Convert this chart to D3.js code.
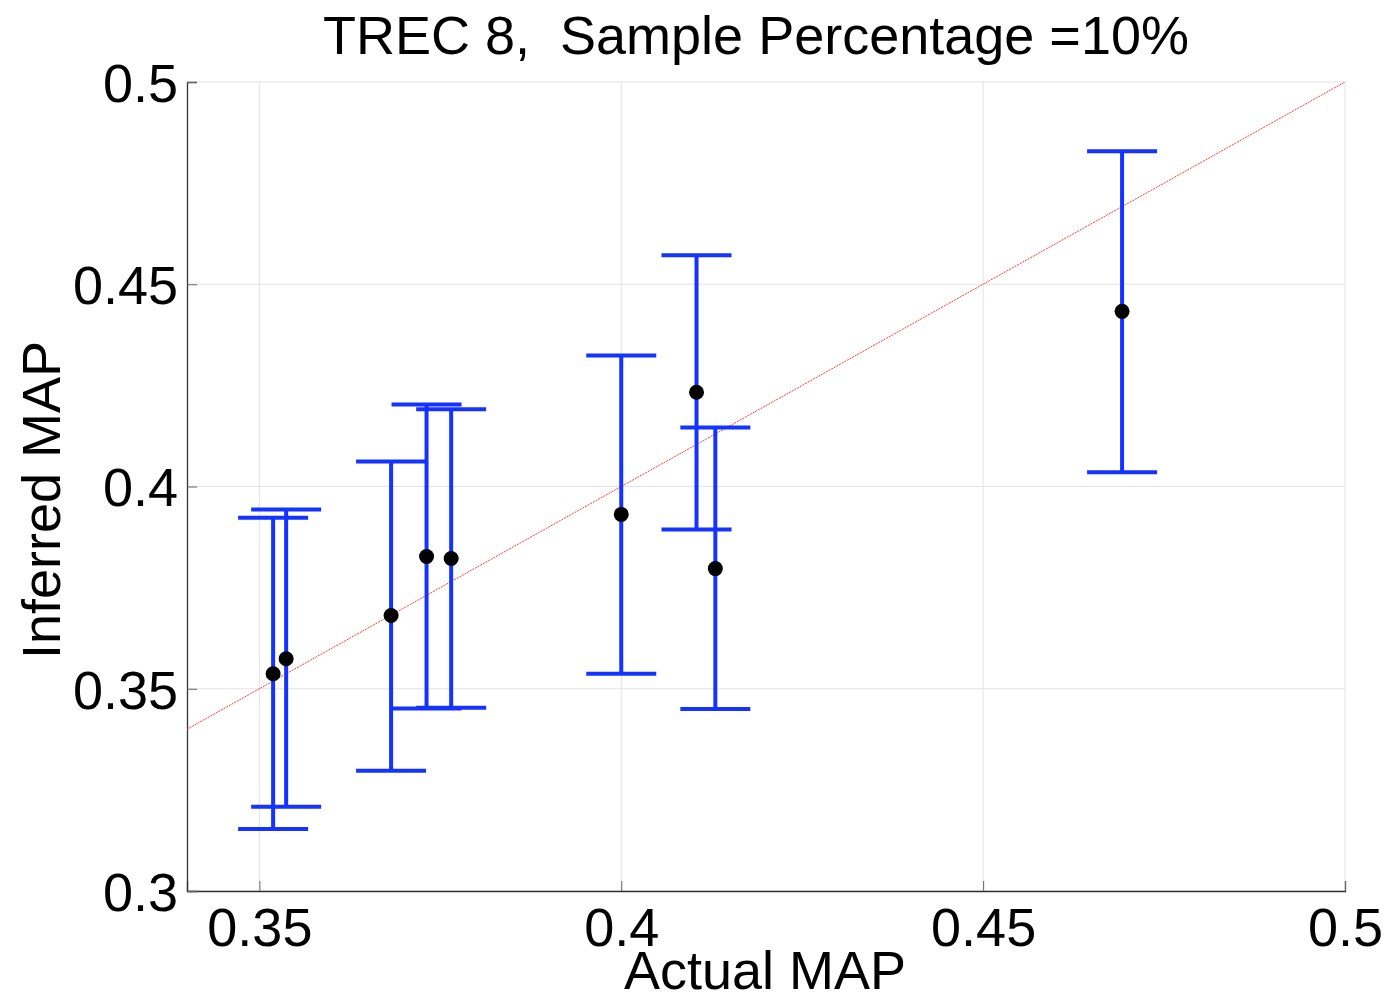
<!DOCTYPE html>
<html>
<head>
<meta charset="utf-8">
<script src="https://cdn.jsdelivr.net/npm/d3@7"></script>
<style>
  body { margin: 0; background: #fff; }
  text { font-family: "Liberation Sans", Arial, sans-serif; }
</style>
</head>
<body>
<svg width="1389" height="1001"></svg>
<script>
// actual MAP (x), inferred MAP (y), error bar bounds
var actual   = [0.3519, 0.3537, 0.3682, 0.3731, 0.3765, 0.4000, 0.4104, 0.4130, 0.4692];
var inferred = [0.3537, 0.3574, 0.3681, 0.3827, 0.3822, 0.3931, 0.4233, 0.3797, 0.4433];
var upper    = [0.3923, 0.3943, 0.4062, 0.4203, 0.4191, 0.4324, 0.4572, 0.4146, 0.4829];
var lower    = [0.3153, 0.3208, 0.3297, 0.3451, 0.3453, 0.3537, 0.3894, 0.3450, 0.4035];
var xTicks = [0.35, 0.4, 0.45, 0.5];
var yTicks = [0.3, 0.35, 0.4, 0.45, 0.5];

var svg = d3.select("svg"),
    margin = {top: 82, right: 44, bottom: 110, left: 187},
    width = svg.attr("width") - margin.left - margin.right,
    height = svg.attr("height") - margin.top - margin.bottom,
    g = svg.append("g").attr("transform", "translate(" + margin.left + "," + margin.top + ")");

var x = d3.scaleLinear().domain([0.34, 0.5]).range([0, width]),
    y = d3.scaleLinear().domain([0.3, 0.5]).range([height, 0]);

var data = actual.map(function(a, i) {
  return {x: a, y: inferred[i], hi: upper[i], lo: lower[i]};
});

// grid
g.append("g")
    .selectAll("line")
    .data(xTicks)
    .enter().append("line")
    .attr("x1", function(d) { return x(d); })
    .attr("x2", function(d) { return x(d); })
    .attr("y1", 0).attr("y2", height)
    .attr("stroke", "#e3e3e3").attr("stroke-width", 1);
g.append("g")
    .selectAll("line")
    .data(yTicks)
    .enter().append("line")
    .attr("y1", function(d) { return y(d); })
    .attr("y2", function(d) { return y(d); })
    .attr("x1", 0).attr("x2", width)
    .attr("stroke", "#e3e3e3").attr("stroke-width", 1);

// axes (ticks pointing inward)
var xAxis = g.append("g")
    .attr("transform", "translate(0," + height + ")")
    .call(d3.axisBottom(x).tickValues(xTicks).tickSize(-10).tickPadding(16)
      .tickFormat(function(d) { return d3.format("")(d); }));
var yAxis = g.append("g")
    .call(d3.axisLeft(y).tickValues(yTicks).tickSize(-10).tickPadding(9)
      .tickFormat(function(d) { return d3.format("")(d); }));

[xAxis, yAxis].forEach(function(a) {
  a.select(".domain").attr("stroke", "#333").attr("stroke-width", 1.3);
  a.selectAll(".tick line").attr("stroke", "#666").attr("stroke-width", 1);
  a.selectAll(".tick text")
      .attr("fill", "#000")
      .style("font-family", "Liberation Sans, Arial, sans-serif")
      .style("font-size", "54px");
});
xAxis.selectAll(".tick text").attr("dy", "0.72em");
yAxis.selectAll(".tick text").attr("dy", "0.36em");

// y = x reference line
g.append("line")
    .attr("x1", x(0.34)).attr("y1", y(0.34))
    .attr("x2", x(0.5)).attr("y2", y(0.5))
    .attr("stroke", "#ff3b30")
    .attr("stroke-width", 1)
    .attr("stroke-dasharray", "2,1");

// error bars
var bars = g.selectAll(".bar")
    .data(data)
    .enter().append("g")
    .attr("class", "bar")
    .attr("stroke", "#1433ff")
    .attr("stroke-width", 4);

bars.append("line")
    .attr("x1", function(d) { return x(d.x); })
    .attr("x2", function(d) { return x(d.x); })
    .attr("y1", function(d) { return y(d.hi); })
    .attr("y2", function(d) { return y(d.lo); });
bars.append("line")
    .attr("x1", function(d) { return x(d.x) - 35; })
    .attr("x2", function(d) { return x(d.x) + 35; })
    .attr("y1", function(d) { return y(d.hi); })
    .attr("y2", function(d) { return y(d.hi); });
bars.append("line")
    .attr("x1", function(d) { return x(d.x) - 35; })
    .attr("x2", function(d) { return x(d.x) + 35; })
    .attr("y1", function(d) { return y(d.lo); })
    .attr("y2", function(d) { return y(d.lo); });

g.selectAll(".dot")
    .data(data)
    .enter().append("circle")
    .attr("class", "dot")
    .attr("cx", function(d) { return x(d.x); })
    .attr("cy", function(d) { return y(d.y); })
    .attr("r", 7.5)
    .attr("fill", "#000");

// labels
svg.append("text")
    .attr("x", 756).attr("y", 54)
    .attr("text-anchor", "middle")
    .style("font-size", "54px")
    .style("white-space", "pre")
    .text("TREC 8,  Sample Percentage =10%");

svg.append("text")
    .attr("x", 765).attr("y", 989)
    .attr("text-anchor", "middle")
    .style("font-size", "54px")
    .text("Actual MAP");

svg.append("text")
    .attr("transform", "translate(60,500) rotate(-90)")
    .attr("text-anchor", "middle")
    .style("font-size", "54px")
    .text("Inferred MAP");
</script>
</body>
</html>
